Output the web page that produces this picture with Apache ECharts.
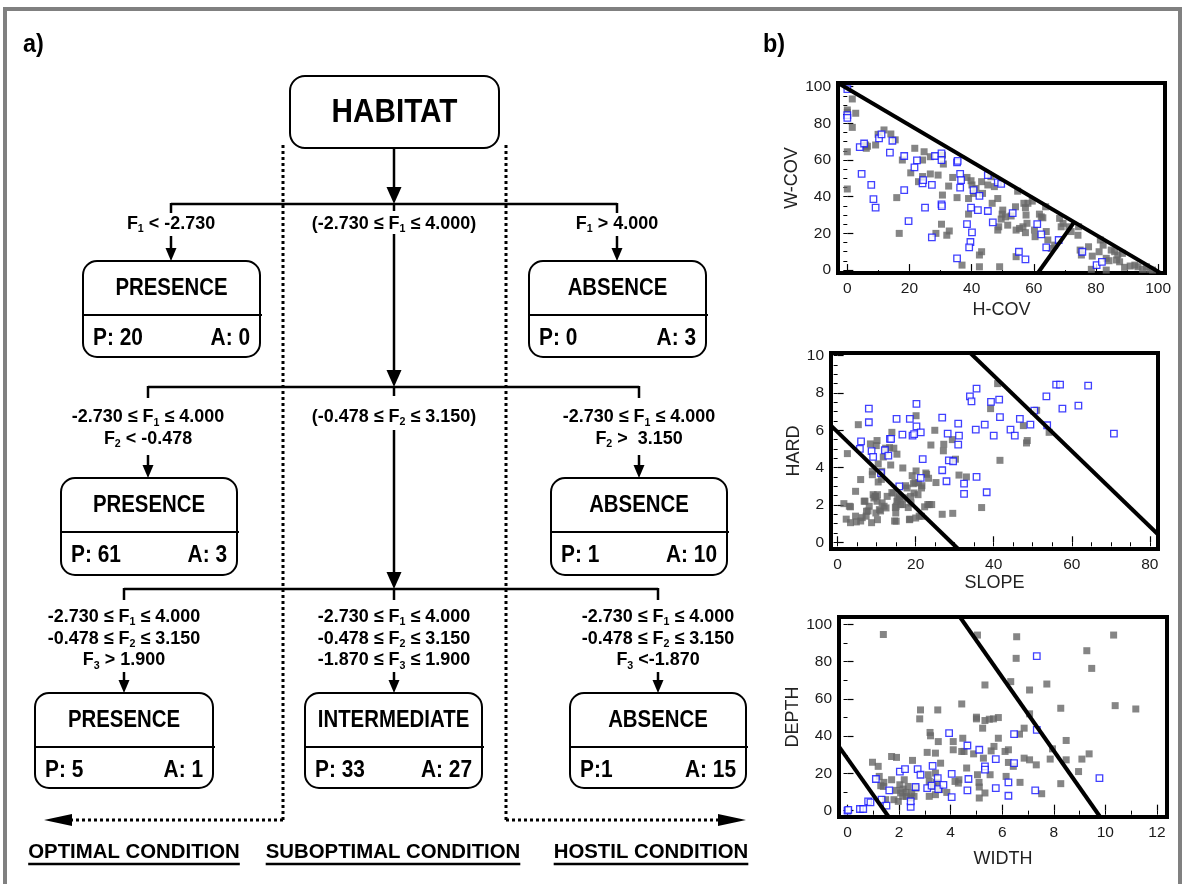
<!DOCTYPE html>
<html><head><meta charset="utf-8">
<script src="https://cdn.jsdelivr.net/npm/echarts@6/dist/echarts.min.js"></script>
<style>html,body{margin:0;padding:0;background:#fff}#c{width:1184px;height:890px}</style>
</head><body><div id="c"></div>
<script>
// ================= DATA =================
// decision tree
const rootTitle = 'HABITAT';
const nodeTitles = ['PRESENCE','ABSENCE','PRESENCE','ABSENCE','PRESENCE','INTERMEDIATE','ABSENCE'];
const nodePLabels = ['P: 20','P: 0','P: 61','P: 1','P: 5','P: 33','P:1'];
const nodeALabels = ['A: 0','A: 3','A: 3','A: 10','A: 1','A: 27','A: 15'];
const level1Rules = ['F{1} < -2.730','(-2.730 ≤ F{1} ≤ 4.000)','F{1} > 4.000'];
const level2Rules = ['-2.730 ≤ F{1} ≤ 4.000\nF{2} < -0.478','(-0.478 ≤ F{2} ≤ 3.150)','-2.730 ≤ F{1} ≤ 4.000\nF{2} >  3.150'];
const level3Rules = ['-2.730 ≤ F{1} ≤ 4.000\n-0.478 ≤ F{2} ≤ 3.150\nF{3} > 1.900',
                     '-2.730 ≤ F{1} ≤ 4.000\n-0.478 ≤ F{2} ≤ 3.150\n-1.870 ≤ F{3} ≤ 1.900',
                     '-2.730 ≤ F{1} ≤ 4.000\n-0.478 ≤ F{2} ≤ 3.150\nF{3} <-1.870'];
const conditionLabels = ['OPTIMAL CONDITION','SUBOPTIMAL CONDITION','HOSTIL CONDITION'];
const panelLabels = ['a)','b)'];

// scatter 1: H-COV vs W-COV
const covGray = [[1.6,93.3],[0,87.3],[0,86],[2.7,85.5],[1.6,77.8],[0,64.5],[0,44.2],[6.1,66.4],[5.9,68.2],[6.5,67.5],[9.1,68.2],[9.9,74],[11.8,76.4],[14,74.2],[15.4,71],[15.9,39.5],[16.7,20],[17.7,60],[20.4,53],[21.7,66.4],[22.9,48.2],[24.7,64.5],[24.2,60],[24.2,51],[26.7,61.8],[26.7,52.4],[28.5,20],[29.2,51.8],[30.3,25],[30.6,62.7],[30.6,40.9],[30.9,57.8],[32,19],[32.8,21.3],[32.6,45.8],[33.9,50.5],[35.3,39.5],[36.9,2.7],[38.5,50.5],[39,30.5],[39,39],[40.1,46.4],[39.8,48.7],[40.6,41.8],[41.4,44.5],[42.5,8.2],[42.5,1.8],[43.2,10],[43.5,41.8],[43.2,48.2],[45.2,46.4],[46.2,50.9],[46.6,36.4],[47.3,45.5],[48.4,39],[48.4,21.8],[48.7,23.6],[49,1.8],[49.5,27.8],[50,32.7],[49.8,30.5],[50.9,29],[51.6,24.5],[52.7,29.5],[54.1,34.5],[54.8,43],[54.3,21.8],[55.4,22.7],[54.3,7.3],[56.5,23.6],[56.8,36.4],[57.3,34],[57.5,30],[57.3,20.4],[57.8,25.5],[58.1,36.4],[59.5,37.6],[60.2,21.8],[60.4,18.2],[61.8,30.5],[62.4,29],[62.9,28.5],[63.8,34.5],[64,21],[64.5,16.4],[65.6,11.8],[66.7,13.6],[68.3,28.2],[68.8,23.6],[69.4,25.5],[71.3,23.6],[72,21],[74.4,23.6],[74.2,19],[74.9,10.9],[75.3,8.2],[77.6,12.7],[78.5,0.4],[78.8,7.6],[81,10],[81.4,16.4],[82.3,13.6],[83.3,6.4],[84.2,5.1],[84.9,10.9],[86,10],[86.6,5.5],[87,8.2],[87.6,4.5],[88.5,9.1],[89.2,1.5],[91,2.2],[92.5,2.7],[93.5,1.8],[95,0.4],[96.2,1.8],[97.3,0.4],[98.2,0],[83.3,0]];
const covBlue = [[0,98.7],[0,84.5],[0,83],[4,67],[5.4,69],[10.2,71.8],[11,74],[14.5,70.5],[4.6,52.4],[7.7,46.4],[8.4,38.7],[9.1,34],[13.7,64],[18.3,62.2],[18.3,43.6],[22.4,59.8],[21.6,56],[19.7,26.7],[24.2,47.3],[24.4,49],[25,34],[27.2,46.4],[27.2,17.8],[28.2,62.2],[30.3,63.6],[30.3,60],[30.3,35.8],[30.4,34.9],[35.3,58.7],[35.5,59.5],[36.3,52.4],[36.6,49],[36.3,45],[35.3,6.4],[38.5,25],[39.6,15.3],[39.2,12.4],[40.1,20.5],[39.8,34],[40.6,43.6],[42,32.7],[42.5,40.4],[45.2,51.8],[45.2,32.2],[46.8,26],[48.4,47.8],[49.5,47],[53.2,31],[55.2,10],[57.3,5.8],[61.1,25],[62.4,19.5],[64,12.4],[68,16.4],[75.6,10],[80.2,2.7],[81.9,4.5]];
const covLineA = [[-3,102],[101,-1.8]];
const covLineB = [[61.3,-1.6],[73.1,26.4]];

// scatter 2: SLOPE vs HARD
const slopeGray = [[1.6,2.07],[3.3,1.9],[2.5,4.75],[2.2,1.24],[3.3,1.05],[4.6,1.4],[4.6,2.73],[5.3,6.3],[5.9,3.36],[4.8,1.09],[5.9,1.14],[6.3,1.32],[7,2.2],[7.3,1.4],[7.8,1.68],[8.4,5.27],[8.7,1.05],[8.9,3.62],[8.9,3.8],[9.3,2.37],[9.7,2.46],[10.1,5.45],[9.9,5.18],[10.4,4.2],[10.4,3.23],[10.1,2.2],[11,1.68],[11.4,2.11],[11.2,3.37],[11.7,4.57],[11.9,1.93],[12.3,5.04],[12.7,2.46],[13.6,4.14],[13.3,5.07],[13.9,5.89],[14.4,5.04],[13.9,2.66],[14.6,1.14],[14.8,1.86],[15.2,2.2],[15.2,4.72],[15.9,2.46],[16.7,2.02],[16.7,3.98],[17.4,3.03],[18.1,1.86],[18.5,1.24],[18.7,2.46],[19.1,3.57],[19.8,3.2],[20.1,3.82],[20.1,6.78],[20.6,2.55],[20.9,1.4],[21.6,3.03],[22.3,1.9],[22.8,3.64],[23.1,2.02],[23.3,3.43],[23.9,5.21],[24.9,6],[25.2,3.2],[26.8,1.5],[27.2,5.25],[27.1,4.9],[29.4,5.5],[29.5,1.55],[30.2,4.45],[31.1,3.6],[33,3.5],[36.9,1.86],[39.2,7.16],[41,8.5],[41.6,4.39],[47.6,6.25],[48.4,5.32],[48.6,5.45],[51,7.07],[54.2,5.89],[9.1,2.55],[9.6,2.46],[10.2,2.55],[10.7,1.75],[10.2,1.21],[11.3,3.8],[12.4,1.84],[14.3,2.64],[15,1.93],[15.4,2.29],[15.8,2.38],[16.2,2.02],[17.2,2.38],[17.8,2.91],[18.8,2.11],[19.4,3.14],[19.6,2.64],[20.7,3.18],[21.5,2.91],[21.5,1.39],[22.6,3.71],[23.5,2.02],[24.1,2.02],[9.8,1.57],[7.4,1.66],[8.1,1.93],[6.8,2.2],[3,1.93],[14.9,1.57],[15,1.13],[20,1.3],[18.4,1.21]];
const slopeBlue = [[8,7.16],[8,6.43],[20.2,7.41],[20.2,6.21],[6,5.41],[5.7,5],[8.7,4.88],[9.1,4.57],[15.1,6.61],[18.5,6.61],[16.6,5.77],[19.2,5.71],[19.6,5.79],[21.3,5.89],[12.1,4.93],[13.4,5.54],[13.7,5.54],[13,4.64],[11.1,3.71],[21.8,4.46],[21.3,3.45],[15.8,3],[26.8,6.68],[28.2,5.82],[30.9,6.36],[31.1,5.71],[30.9,5.23],[28.5,4.39],[29.6,4.34],[26.8,3.86],[27.9,3.27],[32.4,3.14],[32.4,2.59],[35.6,3.5],[38.2,2.68],[33.9,7.82],[34.3,7.55],[35.6,8.23],[35.4,6.04],[37.7,6.3],[39.3,7.52],[40,5.71],[41.4,7.64],[41.6,6.71],[44.3,6.04],[45.4,5.71],[46.7,6.61],[49.4,6.3],[50.4,7.05],[53.5,7.82],[53.7,6.27],[56,8.45],[57,8.45],[57.6,7.16],[61.7,7.32],[64.2,8.39],[70.8,5.82]];
const slopeLineA = [[-1.7,6.25],[30.9,-0.36]];
const slopeLineB = [[32.9,10.36],[82.6,0.32]];

// scatter 3: WIDTH vs DEPTH
const widthGray = [[1.39,94.6],[0.97,26],[1.19,23.8],[1.23,18.4],[1.29,13.4],[1.39,13],[1.41,15.2],[1.48,5.9],[1.71,16.6],[1.71,29.1],[1.8,5.9],[1.9,28.6],[1.9,10.9],[1.97,5],[2.03,13.9],[2.06,9.5],[2.14,7.7],[2.16,11.6],[2.2,16.6],[2.27,9.8],[2.29,7.7],[2.35,13],[2.45,6.8],[2.49,9.5],[2.52,27],[2.58,7.7],[2.65,12.1],[2.83,54.1],[2.8,49.3],[3.09,31.3],[3.13,19.3],[3.17,15.7],[3.17,7.7],[3.2,42],[3.22,40.2],[3.32,13],[3.41,30.9],[3.41,20.2],[3.41,8.6],[3.45,15.2],[3.5,54.1],[3.52,37.1],[3.58,11.3],[3.61,25.5],[3.85,9.8],[4.1,37.1],[4.1,32.7],[4.17,15.7],[4.3,14.8],[4.32,16.6],[4.43,57.3],[4.43,31.8],[4.47,38.9],[4.52,31.8],[4.62,22.9],[4.89,30.5],[5,50.2],[5,49.3],[5.04,94.3],[5.04,19.3],[5.1,15.2],[5.11,6.8],[5.11,12.7],[5.24,44.3],[5.27,28.2],[5.33,67.5],[5.33,48.4],[5.33,9.5],[5.5,49.1],[5.53,19.3],[5.57,32.1],[5.66,49.3],[5.68,34.5],[5.85,50],[5.85,38.9],[6.11,31.8],[6.15,18.4],[6.24,32.7],[6.24,25.9],[6.33,69.3],[6.43,23.8],[6.56,93.4],[6.54,81.8],[6.67,41.1],[6.69,15.2],[6.85,44.3],[6.85,28.2],[7.06,64.8],[7.06,52],[7.06,27.3],[7.32,24.6],[7.53,9.1],[7.73,68],[7.86,27.7],[7.95,33.2],[8.27,55],[8.27,14.5],[8.48,37.7],[8.48,27.3],[8.96,21],[9.09,27.7],[9.28,85.9],[9.37,30.5],[9.47,76.4],[10.32,94.3],[10.38,56.4],[11.18,54.6]];
const widthBlue = [[0,0],[0.03,0.4],[0.48,0.9],[0.61,0.9],[0.8,5],[0.89,4.5],[1.1,17],[1.32,5.9],[1.51,2.7],[1.62,10.9],[2.03,21],[2.23,22.3],[2.45,2],[2.45,5],[2.64,12.7],[2.72,22.3],[2.83,19.3],[3.09,12.1],[3.3,24.1],[3.26,13.4],[3.5,17.5],[3.52,11.6],[3.72,13.9],[3.94,41.6],[4.04,19.8],[4.04,7.3],[4.65,35],[4.69,17],[4.65,10.9],[5.11,32.7],[5.33,23.8],[5.33,22],[5.75,27.7],[5.75,12.1],[6.24,15.2],[6.24,8],[6.46,41.1],[6.46,25.5],[7.28,10.9],[7.34,83],[7.34,43.4],[9.77,17.5]];
const widthLineA = [[-0.33,34.4],[1.6,-3.4]];
const widthLineB = [[4.36,104],[9.8,-3.4]];

// tick labels
const covTicksX = [0,20,40,60,80,100];
const covTicksY = [0,20,40,60,80,100];
const slopeTicksX = [0,20,40,60,80];
const slopeTicksY = [0,2,4,6,8,10];
const widthTicksX = [0,2,4,6,8,10,12];
const widthTicksY = [0,20,40,60,80,100];
const axisNames = [['H-COV','W-COV'],['SLOPE','HARD'],['WIDTH','DEPTH']];

// ================= LAYOUT / STYLE =================
function steps(a, b, s) { const r = []; for (let v = a; v <= b + 1e-9; v += s) r.push(+v.toFixed(4)); return r; }
const FF = "'Liberation Sans',Arial,sans-serif";
const AF = "'Liberation Sans',Arial,sans-serif";
const g = [];
function L(x1,y1,x2,y2,lw,dash){ g.push({type:'line',silent:true,shape:{x1,y1,x2,y2},style:{stroke:'#000',lineWidth:lw||2.5,lineDash:dash||null}}); }
function tri(pts){ g.push({type:'polygon',silent:true,shape:{points:pts},style:{fill:'#000'}}); }
function arrowDown(x,y1,tip,w,h){ L(x,y1,x,tip-h+2); tri([[x-w/2,tip-h],[x+w/2,tip-h],[x,tip]]); }
function T(x,y,text,size,align,sx){ g.push({type:'text',silent:true,x,y,scaleX:sx||1,style:{text,fill:'#000',font:'bold '+size+'px '+FF,align:align||'center',verticalAlign:'middle'}}); }
function richLabel(x,y,str){
  const s = str.split('\n').map(l => l.split(/\{(\d)\}/).map((seg,i)=> seg==='' ? '' : (i%2 ? '{s|'+seg+'}' : '{n|'+seg+'}')).join('')).join('\n');
  g.push({type:'text',silent:true,x,y,scaleX:0.97,style:{text:s,align:'center',verticalAlign:'middle',
    rich:{n:{fontSize:18.5,fontWeight:'bold',fontFamily:FF,lineHeight:21.7,fill:'#000',verticalAlign:'middle'},
          s:{fontSize:11,fontWeight:'bold',fontFamily:FF,lineHeight:11,fill:'#000',verticalAlign:'bottom'}}}});
}
function box(i,x,y,w,h){
  g.push({type:'rect',silent:true,shape:{x,y,width:w,height:h,r:14},style:{fill:'#fff',stroke:'#000',lineWidth:2}});
  L(x,y+54,x+w+2,y+54,2);
  T(x+w/2,y+27,nodeTitles[i],24,'center',0.85);
  T(x+10,y+77,nodePLabels[i],24,'left',0.87);
  T(x+w-10,y+77,nodeALabels[i],24,'right',0.87);
}

// outer frame
g.push({type:'polyline',silent:true,shape:{points:[[5,884],[5,9],[1180,9],[1180,884]]},style:{stroke:'#808080',lineWidth:4,fill:null}});
T(23,45,panelLabels[0],26,'left',0.9);
T(763,45,panelLabels[1],26,'left',0.9);

// dotted condition boundaries
const DOT=[3,3];
L(283,145,283,820,3,DOT); L(506,145,506,820,3,DOT);
L(283,820,70,820,3,DOT); L(506,820,720,820,3,DOT);
tri([[44,820],[72,814],[72,826]]); tri([[746,820],[718,814],[718,826]]);

// root
g.push({type:'rect',silent:true,shape:{x:290,y:76,width:209,height:72,r:15},style:{fill:'#fff',stroke:'#000',lineWidth:2}});
T(394.5,113,rootTitle,33,'center',0.9);
const CX=394;
// level 1
arrowDown(CX,148,204,15,17);
L(171,204,617,204); L(171,203,171,213); L(617,203,617,213); L(CX,204,CX,211);
richLabel(171,224,level1Rules[0]); richLabel(CX,224,level1Rules[1]); richLabel(617,224,level1Rules[2]);
arrowDown(171,236,261,11,13); arrowDown(617,236,261,11,13);
box(0,83,261,177,96); box(1,529,261,177,96);
// level 2
arrowDown(CX,234,387,15,17);
L(148,387,639,387); L(148,386,148,398); L(639,386,639,398); L(CX,387,CX,396);
richLabel(148,428,level2Rules[0]); richLabel(CX,417,level2Rules[1]); richLabel(639,428,level2Rules[2]);
arrowDown(148,455,478,11,13); arrowDown(639,455,478,11,13);
box(2,61,478,176,97); box(3,551,478,176,97);
// level 3
arrowDown(CX,430,589,15,17);
L(124,589,658,589); L(124,588,124,600); L(658,588,658,600); L(CX,589,CX,600);
richLabel(124,638.5,level3Rules[0]); richLabel(CX,638.5,level3Rules[1]); richLabel(658,638.5,level3Rules[2]);
arrowDown(124,672,693,11,13); arrowDown(CX,672,693,11,13); arrowDown(658,672,693,11,13);
box(4,35,693,178,95); box(5,305,693,177,95); box(6,570,693,176,95);

// bottom condition labels
const mctx = document.createElement('canvas').getContext('2d');
const condX = [134,393,651];
const condSX = 0.97;
conditionLabels.forEach((t,i)=>{
  T(condX[i],852,t,21,'center',condSX);
  mctx.font = 'bold 21px '+FF;
  const w = mctx.measureText(t).width*condSX;
  L(condX[i]-w/2,864,condX[i]+w/2,864,2.5);
});

// ================= SCATTER PLOTS =================
const grids = [
  {left:838,top:83,width:327,height:190},
  {left:831,top:353,width:327,height:196},
  {left:839,top:617,width:328,height:200}
];
const ranges = [
  {x:[-3,102.2],y:[-1.6,102],tx:covTicksX,ty:covTicksY,mx:steps(0,100,10),my:steps(0,100,5),gapX:28,gapY:34},
  {x:[-1.7,82.1],y:[-0.36,10.14],tx:slopeTicksX,ty:slopeTicksY,mx:steps(0,80,5),my:steps(0,10,0.5),gapX:23,gapY:27},
  {x:[-0.33,12.39],y:[-3.4,104],tx:widthTicksX,ty:widthTicksY,mx:steps(0,12,1),my:steps(0,100,10),gapX:33,gapY:35}
];
const xAxis=[], yAxis=[];
ranges.forEach((r,i)=>{
  const lab = {fontSize:15.5,color:'#1a1a1a',fontFamily:AF};
  xAxis.push({type:'value',gridIndex:i,position:'bottom',min:r.x[0],max:r.x[1],name:axisNames[i][0],nameLocation:'middle',nameGap:r.gapX,
    nameTextStyle:{fontSize:18,color:'#222',fontFamily:AF,verticalAlign:'top'},axisLine:{show:false},splitLine:{show:false},
    axisTick:{inside:true,length:6,customValues:r.tx,lineStyle:{color:'#000',width:1.2}},
    axisLabel:Object.assign({customValues:r.tx,margin:8},lab)});
  xAxis.push({type:'value',gridIndex:i,position:'top',min:r.x[0],max:r.x[1],axisLine:{show:false},splitLine:{show:false},
    axisTick:{inside:true,length:4,customValues:r.mx,lineStyle:{color:'#000',width:1}},axisLabel:{show:false}});
  yAxis.push({type:'value',gridIndex:i,position:'left',min:r.y[0],max:r.y[1],name:axisNames[i][1],nameLocation:'middle',nameGap:r.gapY,
    nameTextStyle:{fontSize:18,color:'#222',fontFamily:AF},axisLine:{show:false},splitLine:{show:false},
    axisTick:{inside:true,length:6,customValues:r.ty,lineStyle:{color:'#000',width:1.2}},
    axisLabel:Object.assign({customValues:r.ty,margin:7},lab)});
  yAxis.push({type:'value',gridIndex:i,position:'right',min:r.y[0],max:r.y[1],axisLine:{show:false},splitLine:{show:false},
    axisTick:{inside:true,length:4,customValues:r.my,lineStyle:{color:'#000',width:1}},axisLabel:{show:false}});
});
const sets = [[covGray,covBlue,covLineA,covLineB],[slopeGray,slopeBlue,slopeLineA,slopeLineB],[widthGray,widthBlue,widthLineA,widthLineB]];
const series=[];
sets.forEach((s,i)=>{
  series.push({type:'scatter',xAxisIndex:2*i,yAxisIndex:2*i,data:s[0],symbol:'rect',symbolSize:7,itemStyle:{color:'#666'},silent:true,z:2});
  series.push({type:'scatter',xAxisIndex:2*i,yAxisIndex:2*i,data:s[1],symbol:'rect',symbolSize:6.5,itemStyle:{color:'#fff',borderColor:'#1010ff',borderWidth:1.3},silent:true,z:3});
  [s[2],s[3]].forEach(d=>series.push({type:'line',xAxisIndex:2*i,yAxisIndex:2*i,data:d,symbol:'none',clip:true,silent:true,z:4,lineStyle:{color:'#000',width:4}}));
});

const chart = echarts.init(document.getElementById('c'),null,{renderer:'canvas'});
chart.setOption({
  animation:false,
  backgroundColor:'#fff',
  grid: grids.map(gr=>Object.assign({show:true,borderColor:'#000',borderWidth:4,backgroundColor:'transparent',containLabel:false},gr)),
  xAxis, yAxis, series,
  graphic:{elements:g}
});
</script></body></html>
